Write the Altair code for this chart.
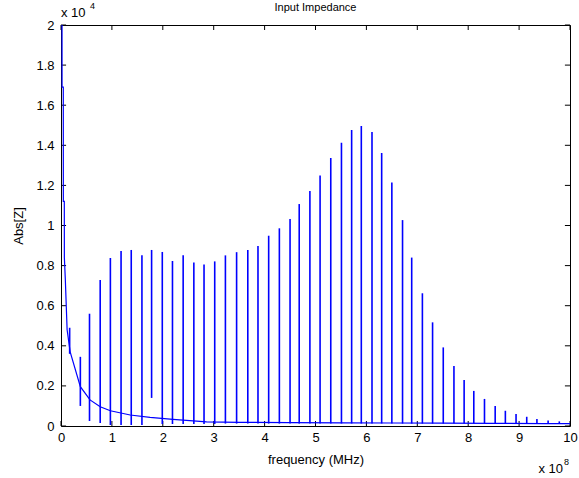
import altair as alt
import pandas as pd

# Baseline (off-resonance) curve (x in 1e8 Hz, y in 1e4 Ohm)
base_f = [0.0, 0.02, 0.021, 0.045, 0.046, 0.065, 0.066, 0.085, 0.12, 0.18, 0.38, 0.57, 0.77, 0.97,
          1.36, 1.75, 2.2, 2.86, 3.5, 4.5, 5.5, 6.5, 7.5, 8.5, 9.5, 10.0]
base_z = [2.05, 2.05, 1.69, 1.69, 1.12, 1.12, 0.84, 0.73, 0.48, 0.37, 0.196, 0.13, 0.096, 0.076,
          0.055, 0.043, 0.033, 0.021, 0.018, 0.017, 0.016, 0.015, 0.014, 0.013, 0.012, 0.012]

# Resonance spikes: position, peak and valley
spike_f = [0.17, 0.38, 0.56, 0.77, 0.97, 1.18, 1.38, 1.59, 1.78, 1.99,
           2.19, 2.40, 2.61, 2.81, 3.02, 3.23, 3.45, 3.67, 3.87, 4.08,
           4.29, 4.50, 4.68, 4.89, 5.09, 5.30, 5.51, 5.71, 5.90, 6.11,
           6.30, 6.50, 6.71, 6.89, 7.10, 7.30, 7.51, 7.72, 7.92, 8.11,
           8.32, 8.53, 8.73, 8.94, 9.15, 9.35, 9.57, 9.79]
spike_top = [0.49, 0.345, 0.56, 0.728, 0.838, 0.873, 0.878, 0.851, 0.878, 0.868,
             0.823, 0.851, 0.815, 0.805, 0.821, 0.851, 0.867, 0.878, 0.898, 0.949,
             0.986, 1.032, 1.107, 1.172, 1.25, 1.337, 1.413, 1.476, 1.496, 1.466,
             1.362, 1.214, 1.027, 0.84, 0.662, 0.517, 0.392, 0.299, 0.229, 0.175,
             0.135, 0.1, 0.076, 0.06, 0.046, 0.035, 0.028, 0.023]
spike_bot = [0.36, 0.10, 0.025, 0.015, 0.005, 0.005, 0.005, 0.005, 0.14, 0.01,
             0.01, 0.01, 0.01, 0.01, 0.01, 0.012, 0.012, 0.012, 0.012, 0.012,
             0.012, 0.012, 0.012, 0.012, 0.012, 0.012, 0.012, 0.012, 0.012, 0.012,
             0.012, 0.012, 0.012, 0.012, 0.012, 0.012, 0.012, 0.012, 0.012, 0.012,
             0.012, 0.012, 0.012, 0.012, 0.012, 0.012, 0.012, 0.012]

x_ticks = [0, 1, 2, 3, 4, 5, 6, 7, 8, 9, 10]
y_ticks = [0, 0.2, 0.4, 0.6, 0.8, 1, 1.2, 1.4, 1.6, 1.8, 2]

TITLE = "Input Impedance"
FONT = "Liberation Sans"
BLUE = "#0000ff"

xs = alt.Scale(domain=[0, 10], nice=False, zero=False)
ys = alt.Scale(domain=[0, 2], nice=False, zero=False)

base_df = pd.DataFrame({"f": base_f, "z": base_z})
spike_df = pd.DataFrame({"f": spike_f, "top": spike_top, "bot": spike_bot})

xt_df = pd.DataFrame({"f": x_ticks})
yt_df = pd.DataFrame({"z": y_ticks})

xaxis = alt.Axis(values=x_ticks, ticks=False, domain=False, grid=False, labelPadding=5,
                 title="frequency (MHz)", titlePadding=9, labelFlush=False)
yaxis = alt.Axis(values=y_ticks, ticks=False, domain=False, grid=False, labelPadding=7,
                 title="Abs[Z]", titlePadding=10, labelFlush=False,
                 labelExpr="datum.value == 0 ? '0' : datum.value == 1 ? '1' : datum.value == 2 ? '2' : format(datum.value, '.1f')")

# axis frame (box) ticks pointing inside, drawn through the scales
tick_len_x = 0.1
tick_len_y = 0.025
bottom_ticks = alt.Chart(xt_df).transform_calculate(y0="0", y1=str(tick_len_y)).mark_rule(
    color="black", strokeWidth=1).encode(
    x=alt.X("f:Q", scale=xs, axis=xaxis),
    y=alt.Y("y0:Q", scale=ys, axis=yaxis), y2="y1:Q")
top_ticks = alt.Chart(xt_df).transform_calculate(y0="2", y1=str(2 - tick_len_y)).mark_rule(
    color="black", strokeWidth=1).encode(
    x=alt.X("f:Q", scale=xs), y=alt.Y("y0:Q", scale=ys), y2="y1:Q")
left_ticks = alt.Chart(yt_df).transform_calculate(x0="0", x1=str(tick_len_x)).mark_rule(
    color="black", strokeWidth=1).encode(
    y=alt.Y("z:Q", scale=ys), x=alt.X("x0:Q", scale=xs), x2="x1:Q")
right_ticks = alt.Chart(yt_df).transform_calculate(x0="10", x1=str(10 - tick_len_x)).mark_rule(
    color="black", strokeWidth=1).encode(
    y=alt.Y("z:Q", scale=ys), x=alt.X("x0:Q", scale=xs), x2="x1:Q")

base_line = alt.Chart(base_df).mark_line(color=BLUE, strokeWidth=1.2, clip=True).encode(
    x=alt.X("f:Q", scale=xs), y=alt.Y("z:Q", scale=ys))

spikes = alt.Chart(spike_df).mark_rule(color=BLUE, strokeWidth=1.6, clip=True).encode(
    x=alt.X("f:Q", scale=xs), y=alt.Y("bot:Q", scale=ys), y2="top:Q")

# title and exponent annotations, anchored to the data frame
ann_title = pd.DataFrame({"f": [5], "z": [2]})
ann_top = pd.DataFrame({"f": [0], "z": [2]})
ann_bot = pd.DataFrame({"f": [10], "z": [0]})
ttl = alt.Chart(ann_title).mark_text(text=TITLE, align="center", baseline="alphabetic", dy=-14,
                                     font=FONT, fontSize=11, color="black").encode(
    x=alt.X("f:Q", scale=xs), y=alt.Y("z:Q", scale=ys))
t1 = alt.Chart(ann_top).mark_text(text="x 10", align="left", baseline="alphabetic", dx=0, dy=-8,
                                  font=FONT, fontSize=13, color="black").encode(
    x=alt.X("f:Q", scale=xs), y=alt.Y("z:Q", scale=ys))
t1e = alt.Chart(ann_top).mark_text(text="4", align="left", baseline="alphabetic", dx=29, dy=-16,
                                   font=FONT, fontSize=9, color="black").encode(
    x=alt.X("f:Q", scale=xs), y=alt.Y("z:Q", scale=ys))
t2 = alt.Chart(ann_bot).mark_text(text="x 10", align="right", baseline="alphabetic", dx=-7, dy=47,
                                  font=FONT, fontSize=13, color="black").encode(
    x=alt.X("f:Q", scale=xs), y=alt.Y("z:Q", scale=ys))
t2e = alt.Chart(ann_bot).mark_text(text="8", align="left", baseline="alphabetic", dx=-6, dy=39,
                                   font=FONT, fontSize=9, color="black").encode(
    x=alt.X("f:Q", scale=xs), y=alt.Y("z:Q", scale=ys))

chart = alt.layer(bottom_ticks, top_ticks, left_ticks, right_ticks, base_line, spikes,
                  ttl, t1, t1e, t2, t2e).properties(
    width=509, height=401,
    autosize=alt.AutoSizeParams(type="none"),
    padding={"left": 61, "top": 25, "right": 9, "bottom": 52},
    background="white",
).configure_view(stroke="black", strokeWidth=1).configure_axis(
    labelFont=FONT, labelFontSize=13, labelColor="black",
    titleFont=FONT, titleFontSize=13, titleColor="black", titleFontWeight="normal")

chart.save("out.html", embed_options={"renderer": "svg", "actions": False})
